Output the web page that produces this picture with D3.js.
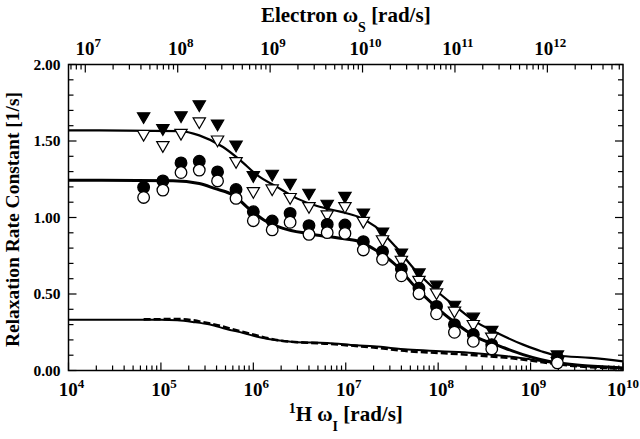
<!DOCTYPE html>
<html>
<head>
<meta charset="utf-8">
<script src="https://cdn.jsdelivr.net/npm/d3@7"></script>
<style>
  body { margin: 0; background: #fff; }
  svg { display: block; }
</style>
</head>
<body>
<div id="chart"></div>
<script>
// 1H frequencies of the measured points [rad/s]
const omegaI = [6.5e4, 1.05e5, 1.65e5, 2.6e5, 4.1e5, 6.5e5, 1.0e6, 1.6e6, 2.5e6, 4.0e6, 6.3e6,
    9.8e6, 1.55e7, 2.5e7, 4.0e7, 6.2e7, 9.6e7, 1.5e8, 2.4e8, 3.8e8, 1.95e9];

// relaxation rate constants [1/s] for the four point series
const filledTriangles = [1.668, 1.59, 1.674, 1.746, 1.62, 1.483, 1.283, 1.292, 1.233, 1.168, 1.096,
    1.147, 1.038, 0.914, 0.777, 0.647, 0.567, 0.436, 0.358, 0.272, 0.111];
const openTriangles = [1.552, 1.479, 1.559, 1.635, 1.516, 1.375, 1.179, 1.196, 1.14, 1.081, 1.027,
    1.081, 0.984, 0.864, 0.73, 0.599, 0.517, 0.397, 0.31, 0.228, 0.067];
const filledCircles = [1.197, 1.239, 1.357, 1.368, 1.298, 1.183, 1.038, 0.977, 1.027, 0.947, 0.955,
    0.951, 0.842, 0.777, 0.664, 0.538, 0.419, 0.30, 0.235, 0.169, 0.085];
const openCircles = [1.131, 1.179, 1.294, 1.31, 1.239, 1.125, 0.979, 0.919, 0.969, 0.890, 0.901,
    0.896, 0.788, 0.727, 0.619, 0.502, 0.371, 0.25, 0.191, 0.141, 0.05];

// fitted curves, [omegaI, rate]
const fitUpper = [[1e4, 1.57], [1.6e5, 1.565], [2.6e5, 1.537], [4.7e5, 1.461], [7.2e5, 1.375],
    [1.1e6, 1.277], [1.8e6, 1.20], [2.95e6, 1.125], [4.9e6, 1.075], [8.7e6, 1.038], [1.36e7, 1.005],
    [2.1e7, 0.94], [3.45e7, 0.81], [5.6e7, 0.658], [9.3e7, 0.528], [1.54e8, 0.419], [2.5e8, 0.321],
    [4.2e8, 0.25], [8.3e8, 0.169], [1.3e9, 0.126], [1.95e9, 0.098], [4.5e9, 0.083], [1e10, 0.06]];
const fitMiddle = [[1e4, 1.244], [1.35e5, 1.24], [2.6e5, 1.222], [3.8e5, 1.19], [6.3e5, 1.14],
    [8.5e5, 1.07], [1.3e6, 0.984], [2.1e6, 0.929], [3.8e6, 0.896], [6.0e6, 0.878], [8.7e6, 0.864],
    [1.36e7, 0.845], [2.1e7, 0.788], [3.45e7, 0.691], [5.6e7, 0.549], [9.3e7, 0.419], [1.54e8, 0.31],
    [2.5e8, 0.223], [4.7e8, 0.158], [8.3e8, 0.104], [1.95e9, 0.05], [1e10, 0.017]];
const fitLowerSolid = [[1e4, 0.332], [1e5, 0.332], [1.5e5, 0.328], [2.2e5, 0.317], [3.4e5, 0.30],
    [5.1e5, 0.271], [7.8e5, 0.245], [1.17e6, 0.217], [1.8e6, 0.197], [2.7e6, 0.187], [6.3e6, 0.18],
    [1.3e7, 0.165], [2.0e7, 0.158], [4.7e7, 0.137], [1.05e8, 0.126], [2.4e8, 0.115], [5.6e8, 0.093],
    [1e9, 0.072], [1.95e9, 0.046], [4.5e9, 0.028], [1e10, 0.017]];
const fitLowerDashed = [[6.5e4, 0.334], [1.6e5, 0.336], [3.2e5, 0.31], [8e5, 0.25],
    [2e6, 0.195], [6.3e6, 0.175], [2e7, 0.15], [5e7, 0.125], [1e8, 0.115], [2.5e8, 0.10],
    [6.3e8, 0.08], [1e9, 0.065], [2e9, 0.04], [1e10, 0.012]];

// axis labels
const bottomExponents = ["4", "5", "6", "7", "8", "9", "10"];
const topExponents = ["7", "8", "9", "10", "11", "12"];
const yTickLabels = ["0.00", "0.50", "1.00", "1.50", "2.00"];
const gammaRatio = 658.2; // electron / proton gyromagnetic ratio

class RateChart {
    constructor() {
        const attrs = {
            container: "#chart",
            svgWidth: 640,
            svgHeight: 439,
            plotLeft: 68.5,
            plotRight: 623,
            plotTop: 64.5,
            plotBottom: 370.5,
            font: "'Liberation Serif', 'Times New Roman', serif"
        };
        this.getState = () => attrs;
        this.setState = (d) => Object.assign(attrs, d);
    }

    render() {
        this.drawSvg();
        this.drawAxes();
        this.drawCurves();
        this.drawPoints();
        return this;
    }

    drawSvg() {
        const { container, svgWidth, svgHeight, font, plotLeft, plotRight, plotTop, plotBottom } = this.getState();
        const svg = d3.select(container).append("svg")
            .attr("width", svgWidth)
            .attr("height", svgHeight)
            .attr("font-family", font)
            .attr("font-weight", "bold");

        const x = d3.scaleLog().domain([1e4, 1e10]).range([plotLeft, plotRight]);
        const xTop = d3.scaleLog().domain([1e4 * gammaRatio, 1e10 * gammaRatio]).range([plotLeft, plotRight]);
        const y = d3.scaleLinear().domain([0, 2]).range([plotBottom, plotTop]);

        this.setState({ svg, x, xTop, y });
    }

    drawAxes() {
        const { svg, svgWidth, x, xTop, y, plotLeft, plotRight, plotTop, plotBottom } = this.getState();
        const g = svg.append("g").attr("class", "axes");

        const isDecade = (v) => Math.abs(Math.log10(v) - Math.round(Math.log10(v))) < 1e-6;

        // bottom axis ticks (inward)
        g.selectAll("line.tick-bottom").data(x.ticks()).join("line")
            .attr("class", "tick-bottom")
            .attr("x1", d => x(d)).attr("x2", d => x(d))
            .attr("y1", plotBottom).attr("y2", d => plotBottom - (isDecade(d) ? 8 : 5))
            .attr("stroke", "#000").attr("stroke-width", 1.2);

        // top axis ticks (inward)
        g.selectAll("line.tick-top").data(xTop.ticks()).join("line")
            .attr("class", "tick-top")
            .attr("x1", d => xTop(d)).attr("x2", d => xTop(d))
            .attr("y1", plotTop).attr("y2", d => plotTop + (isDecade(d) ? 8 : 5))
            .attr("stroke", "#000").attr("stroke-width", 1.2);

        // y ticks on both sides
        const yTicks = d3.range(0, 21).map(i => i / 10);
        const isMajorY = (v) => Math.abs(v * 2 - Math.round(v * 2)) < 1e-6;
        g.selectAll("line.tick-left").data(yTicks).join("line")
            .attr("class", "tick-left")
            .attr("x1", plotLeft).attr("x2", d => plotLeft + (isMajorY(d) ? 8 : 5))
            .attr("y1", d => y(d)).attr("y2", d => y(d))
            .attr("stroke", "#000").attr("stroke-width", 1.2);
        g.selectAll("line.tick-right").data(yTicks).join("line")
            .attr("class", "tick-right")
            .attr("x1", plotRight).attr("x2", d => plotRight - (isMajorY(d) ? 8 : 5))
            .attr("y1", d => y(d)).attr("y2", d => y(d))
            .attr("stroke", "#000").attr("stroke-width", 1.2);

        // frame
        g.append("rect")
            .attr("x", plotLeft).attr("y", plotTop)
            .attr("width", plotRight - plotLeft).attr("height", plotBottom - plotTop)
            .attr("fill", "none").attr("stroke", "#000").attr("stroke-width", 1.5);

        // y tick labels
        g.selectAll("text.ylab").data(yTickLabels).join("text")
            .attr("class", "ylab")
            .attr("x", plotLeft - 8)
            .attr("y", d => y(+d) + 5)
            .attr("text-anchor", "end")
            .attr("font-size", 15.5)
            .text(d => d);

        // bottom tick labels 10^n (last one pulled in so it stays inside the page)
        const bl = g.selectAll("text.xlab").data(bottomExponents).join("text")
            .attr("class", "xlab")
            .attr("x", d => +d === 10 ? svgWidth - 1 : x(Math.pow(10, +d)) + 3)
            .attr("y", plotBottom + 25)
            .attr("text-anchor", d => +d === 10 ? "end" : "middle")
            .attr("font-size", 19);
        bl.append("tspan").text("10");
        bl.append("tspan").attr("dy", -8).attr("font-size", 13).text(d => d);

        // top tick labels 10^n
        const tl = g.selectAll("text.xtoplab").data(topExponents).join("text")
            .attr("class", "xtoplab")
            .attr("x", d => xTop(Math.pow(10, +d)) + 3)
            .attr("y", plotTop - 10)
            .attr("text-anchor", "middle")
            .attr("font-size", 19);
        tl.append("tspan").text("10");
        tl.append("tspan").attr("dy", -8).attr("font-size", 13).text(d => d);

        // axis titles
        const cx = (plotLeft + plotRight) / 2;
        const topTitle = g.append("text")
            .attr("x", cx).attr("y", 22)
            .attr("text-anchor", "middle")
            .attr("font-size", 21);
        topTitle.append("tspan").text("Electron ω");
        topTitle.append("tspan").attr("dy", 10).attr("font-size", 14).text("S");
        topTitle.append("tspan").attr("dy", -10).text(" [rad/s]");

        const bottomTitle = g.append("text")
            .attr("x", cx).attr("y", 421)
            .attr("text-anchor", "middle")
            .attr("font-size", 21);
        bottomTitle.append("tspan").attr("dy", -8).attr("font-size", 14).text("1");
        bottomTitle.append("tspan").attr("dy", 8).text("H ω");
        bottomTitle.append("tspan").attr("dy", 10).attr("font-size", 14).text("I");
        bottomTitle.append("tspan").attr("dy", -10).text(" [rad/s]");

        g.append("text")
            .attr("transform", `translate(19,${(plotTop + plotBottom) / 2 + 2}) rotate(-90)`)
            .attr("text-anchor", "middle")
            .attr("font-size", 19.5)
            .text("Relaxation Rate Constant [1/s]");
    }

    drawCurves() {
        const { svg, x, y, plotLeft, plotRight, plotTop, plotBottom } = this.getState();
        svg.append("clipPath").attr("id", "plot-clip")
            .append("rect")
            .attr("x", plotLeft).attr("y", plotTop)
            .attr("width", plotRight - plotLeft).attr("height", plotBottom - plotTop);

        const line = d3.line()
            .x(d => x(d[0]))
            .y(d => y(d[1]))
            .curve(d3.curveMonotoneX);

        const curves = [
            { data: fitLowerDashed, width: 2.6, dash: "7,3" },
            { data: fitLowerSolid, width: 2, dash: null },
            { data: fitUpper, width: 2.2, dash: null },
            { data: fitMiddle, width: 3, dash: null }
        ];

        svg.append("g").attr("clip-path", "url(#plot-clip)")
            .selectAll("path.fit").data(curves).join("path")
            .attr("class", "fit")
            .attr("d", d => line(d.data))
            .attr("fill", "none")
            .attr("stroke", "#000")
            .attr("stroke-width", d => d.width)
            .attr("stroke-dasharray", d => d.dash);
    }

    drawPoints() {
        const { svg, x, y } = this.getState();
        const g = svg.append("g").attr("class", "points");
        const tri = d3.symbol().type(d3.symbolTriangle).size(66);

        const series = [
            { vals: filledTriangles, shape: "tri", fill: "#000" },
            { vals: openTriangles, shape: "tri", fill: "#fff" },
            { vals: filledCircles, shape: "circle", fill: "#000" },
            { vals: openCircles, shape: "circle", fill: "#fff" }
        ];

        series.forEach((s, si) => {
            const pts = omegaI.map((w, i) => ({ w, v: s.vals[i] }));
            if (s.shape === "tri") {
                g.selectAll("path.s" + si).data(pts).join("path")
                    .attr("class", "s" + si)
                    .attr("d", tri)
                    .attr("transform", d => `translate(${x(d.w)},${y(d.v) + 1}) rotate(180)`)
                    .attr("fill", s.fill)
                    .attr("stroke", "#000")
                    .attr("stroke-width", 1.2);
            } else {
                g.selectAll("circle.s" + si).data(pts).join("circle")
                    .attr("class", "s" + si)
                    .attr("cx", d => x(d.w))
                    .attr("cy", d => y(d.v))
                    .attr("r", 5.8)
                    .attr("fill", s.fill)
                    .attr("stroke", "#000")
                    .attr("stroke-width", 1.3);
            }
        });
    }
}

new RateChart().render();
</script>
</body>
</html>
